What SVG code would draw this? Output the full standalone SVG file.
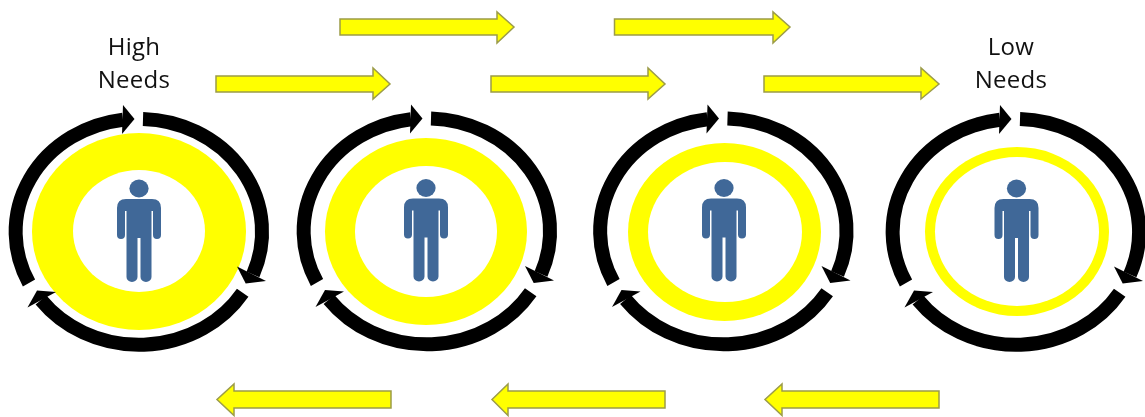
<svg xmlns="http://www.w3.org/2000/svg" width="1145" height="417" viewBox="0 0 1145 417">
<style>
.band{fill:#ffff00}
.hole{fill:#fff}
.arrow{fill:#ffff00;stroke:#9c9c48;stroke-width:1.5;stroke-linejoin:miter}
.arc{fill:none;stroke:#000;stroke-width:14}
.head{fill:#000}
.person{fill:#3f6898}
text{font-family:"Open Sans","Noto Sans","Liberation Sans",sans-serif;font-size:24px;fill:#111;text-anchor:middle;letter-spacing:.3px}
</style>
<defs>
<filter id="soft" x="-5%" y="-5%" width="110%" height="110%"><feGaussianBlur stdDeviation="0.5"/></filter>
<g id="cycle">
<path class="arc" d="M4,-113 A123,113 0 0 1 114,42.5"/>
<path class="arc" d="M103.7,60.7 A123,113 0 0 1 -98,68"/>
<path class="arc" d="M-110,51 A123,113 0 0 1 -16,-112.3"/>
<polygon class="head" points="-16,-127 -4.500,-113 -17,-98"/>
<polygon class="head" points="98,34.500 127,49 106.700,51.500"/>
<polygon class="head" points="-83,60 -102,58.500 -111.500,75.500"/>
</g>
<g id="person">
<ellipse class="person" cx="0" cy="-43.500" rx="9.600" ry="9"/>
<path class="person" d="M-13,-33 H13 Q22,-33 22,-24 V3 a4,4 0 0 1 -8,0 V-21 H12.500 V45 a5.500,5 0 0 1 -11,0 V6 H-1.500 V45 a5.500,5 0 0 1 -11,0 V-21 H-14 V3 a4,4 0 0 1 -8,0 V-24 Q-22,-33 -13,-33 Z"/>
</g>
</defs>
<g filter="url(#soft)">
<g id="stage-1">
<ellipse class="band" cx="139" cy="231.500" rx="107" ry="98.500"/>
<ellipse class="hole" cx="139" cy="231" rx="66" ry="61"/>
<use href="#cycle" x="139" y="232"/>
<use href="#person" x="139" y="232"/>
</g>
<g id="stage-2">
<ellipse class="band" cx="426" cy="231.500" rx="101" ry="93.500"/>
<ellipse class="hole" cx="426" cy="231.500" rx="71" ry="65.500"/>
<use href="#cycle" x="427" y="231.500"/>
<use href="#person" x="426" y="231.500"/>
</g>
<g id="stage-3">
<ellipse class="band" cx="724.500" cy="232" rx="96.500" ry="89"/>
<ellipse class="hole" cx="725" cy="232" rx="77" ry="70"/>
<use href="#cycle" x="723.500" y="231.500"/>
<use href="#person" x="724" y="231.500"/>
</g>
<g id="stage-4">
<ellipse class="band" cx="1017" cy="231.500" rx="92" ry="84.500"/>
<ellipse class="hole" cx="1017" cy="231.500" rx="82" ry="74.500"/>
<use href="#cycle" x="1016" y="232"/>
<use href="#person" x="1016.500" y="232"/>
</g>
<g id="connectors">
<polygon class="arrow" points="340,19 497,19 497,12 514,27 497,43 497,35 340,35"/>
<polygon class="arrow" points="614.500,19 773,19 773,12 790,27 773,43 773,35 614.500,35"/>
<polygon class="arrow" points="216,76 373,76 373,68 390,84 373,99 373,92 216,92"/>
<polygon class="arrow" points="491,76 648,76 648,68 665,84 648,99 648,92 491,92"/>
<polygon class="arrow" points="764,76 921,76 921,68 939,84 921,99 921,92 764,92"/>
<polygon class="arrow" points="391,391 234,391 234,384 217,399.500 234,415.500 234,408 391,408"/>
<polygon class="arrow" points="665,391 508,391 508,384 492,399.500 508,415.500 508,408 665,408"/>
<polygon class="arrow" points="939,391 782,391 782,384 765,399.500 782,415.500 782,408 939,408"/>
</g>
</g>
<g id="label-high">
<text x="134" y="55">High</text>
<text x="134" y="87.500">Needs</text>
</g>
<g id="label-low">
<text x="1011" y="55">Low</text>
<text x="1011" y="87.500">Needs</text>
</g>
</svg>
